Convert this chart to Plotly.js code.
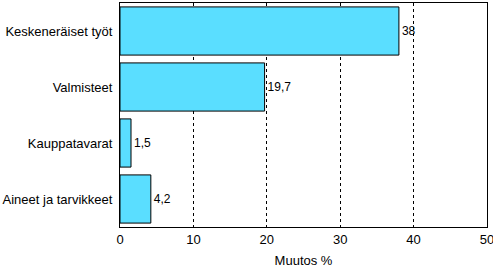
<!DOCTYPE html>
<html><head><meta charset="utf-8">
<script src="https://cdn.plot.ly/plotly-3.0.1.min.js"></script>
<style>html,body{margin:0;padding:0;background:#fff}</style>
</head><body>
<div id="chart" style="width:493px;height:270px"></div>
<script>
const categories = ["Keskeneräiset työt", "Valmisteet", "Kauppatavarat", "Aineet ja tarvikkeet"];
const values = [38, 19.7, 1.5, 4.2];
const valueLabels = ["38", "19,7", "1,5", "4,2"];
const xTicks = [0, 10, 20, 30, 40, 50];

const trace = {
  type: "bar",
  orientation: "h",
  y: categories,
  x: values,
  text: valueLabels,
  textposition: "outside",
  cliponaxis: false,
  textfont: {family: "Liberation Sans, Arial, sans-serif", size: 12, color: "#000"},
  marker: {color: "#5ADEFF", line: {color: "#000", width: 1}},
  hoverinfo: "none"
};

const layout = {
  width: 493, height: 270,
  margin: {l: 120, r: 6, t: 3, b: 43},
  paper_bgcolor: "#fff",
  plot_bgcolor: "#fff",
  bargap: 0.14,
  showlegend: false,
  font: {family: "Liberation Sans, Arial, sans-serif", size: 13, color: "#000"},
  xaxis: {
    range: [0, 50],
    tickvals: xTicks,
    ticktext: xTicks.map(String),
    ticklabeloverflow: "allow",
    showgrid: true,
    gridcolor: "#000",
    gridwidth: 1,
    griddash: "3px,3px",
    zeroline: false,
    showline: true,
    linecolor: "#000",
    linewidth: 1,
    mirror: true,
    ticks: "",
    ticklen: 0,
    automargin: false,
    tickfont: {size: 13},
    title: {text: "Muutos %", font: {size: 13, color: "#000"}, standoff: 10},
    fixedrange: true
  },
  yaxis: {
    categoryorder: "array",
    categoryarray: categories,
    autorange: "reversed",
    showline: true,
    linecolor: "#000",
    linewidth: 1,
    mirror: true,
    showgrid: false,
    ticks: "",
    automargin: false,
    ticklabelstandoff: 4,
    tickfont: {size: 13},
    fixedrange: true
  }
};

Plotly.newPlot("chart", [trace], layout, {displayModeBar: false, staticPlot: true});
</script>
</body></html>
